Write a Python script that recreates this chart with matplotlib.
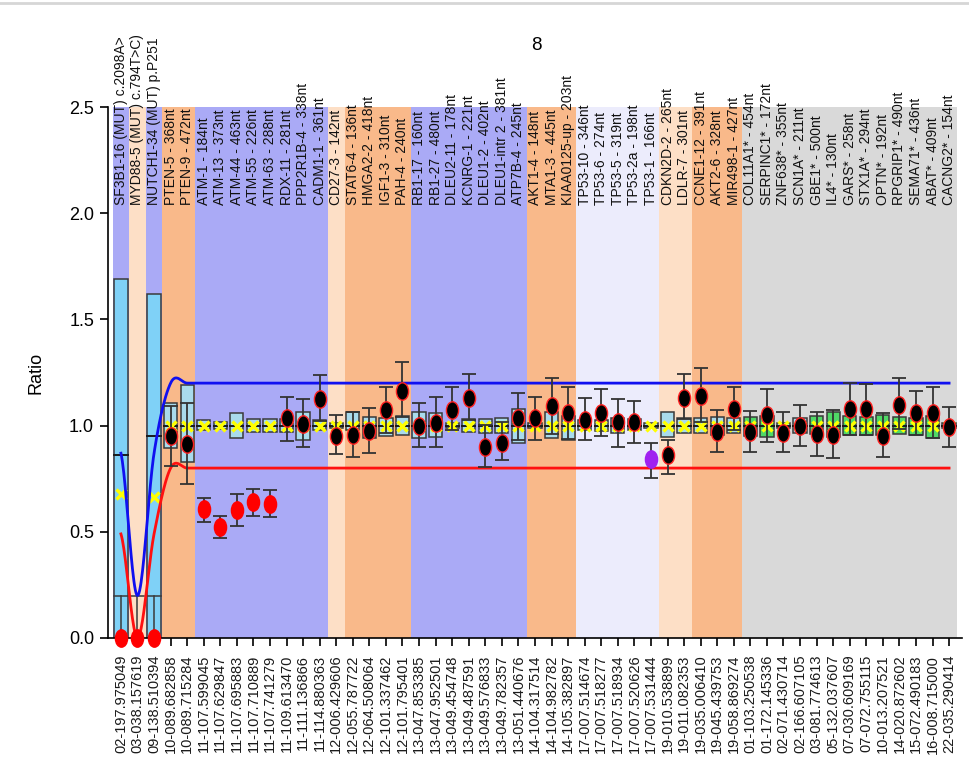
import numpy as np
import matplotlib
matplotlib.use("Agg")
import matplotlib.pyplot as plt
from matplotlib.path import Path
from matplotlib.lines import Line2D
from matplotlib.patches import Rectangle

plt.rcParams['font.family'] = ['Liberation Sans', 'DejaVu Sans']

# --- data -------------------------------------------------------------
probe_labels = [
    "SF3B1-16 (MUT) c.2098A>", "MYD88-5 (MUT) c.794T>C)", "NUTCH1-34 (MUT) p.P251",
    "PTEN-5 - 368nt", "PTEN-9 - 472nt", "ATM-1 - 184nt", "ATM-13 - 373nt",
    "ATM-44 - 463nt", "ATM-55 - 226nt", "ATM-63 - 288nt", "RDX-11 - 281nt",
    "PPP2R1B-4 - 338nt", "CADM1-1 - 361nt", "CD27-3 - 142nt", "STAT6-4 - 136nt",
    "HMGA2-2 - 418nt", "IGF1-3 - 310nt", "PAH-4 - 240nt", "RB1-17 - 160nt",
    "RB1-27 - 480nt", "DLEU2-11 - 178nt", "KCNRG-1 - 221nt", "DLEU1-2 - 402nt",
    "DLEU1-intr 2 - 381nt", "ATP7B-4 - 245nt", "AKT1-4 - 148nt", "MTA1-3 - 445nt",
    "KIAA0125-up - 203nt", "TP53-10 - 346nt", "TP53-6 - 274nt", "TP53-5 - 319nt",
    "TP53-2a - 198nt", "TP53-1 - 166nt", "CDKN2D-2 - 265nt", "LDLR-7 - 301nt",
    "CCNE1-12 - 391nt", "AKT2-6 - 328nt", "MIR498-1 - 427nt", "COL11A1* - 454nt",
    "SERPINC1* - 172nt", "ZNF638* - 355nt", "SCN1A* - 211nt", "GBE1* - 500nt",
    "IL4* - 130nt", "GARS* - 258nt", "STX1A* - 294nt", "OPTN* - 192nt",
    "RPGRIP1* - 490nt", "SEMA71* - 436nt", "ABAT* - 409nt", "CACNG2* - 154nt",
]

positions = [
    "02-197.975049", "03-038.157619", "09-138.510394", "10-089.682858", "10-089.715284",
    "11-107.599045", "11-107.629847", "11-107.695883", "11-107.710889", "11-107.741279",
    "11-109.613470", "11-111.136866", "11-114.880363", "12-006.429606", "12-055.787722",
    "12-064.508064", "12-101.337462", "12-101.795401", "13-047.853385", "13-047.952501",
    "13-049.454748", "13-049.487591", "13-049.576833", "13-049.782357", "13-051.440676",
    "14-104.317514", "14-104.982782", "14-105.382897", "17-007.514674", "17-007.518277",
    "17-007.518934", "17-007.520626", "17-007.531444", "19-010.538899", "19-011.082353",
    "19-035.006410", "19-045.439753", "19-058.869274", "01-103.250538", "01-172.145336",
    "02-071.430714", "02-166.607105", "03-081.774613", "05-132.037607", "07-030.609169",
    "07-072.755115", "10-013.207521", "14-020.872602", "15-072.490183", "16-008.715000",
    "22-035.290414",
]

# background group per probe
band_group = (["blue", "peach", "blue"] + ["orange"] * 2 + ["blue"] * 8 + ["peach"]
              + ["orange"] * 4 + ["blue"] * 7 + ["orange"] * 3 + ["lilac"] * 5
              + ["peach"] * 2 + ["orange"] * 3 + ["gray"] * 13)

# sample ratio with error range
ratio = [0.0, 0.0, 0.0, 0.952, 0.913, 0.606, 0.524, 0.603, 0.639, 0.629,
         1.037, 1.007, 1.127, 0.951, 0.956, 0.976, 1.073, 1.164, 0.998, 1.014,
         1.073, 1.128, 0.898, 0.920, 1.034, 1.034, 1.092, 1.061, 1.026, 1.061,
         1.019, 1.019, 0.841, 0.862, 1.128, 1.139, 0.971, 1.077, 0.971, 1.050,
         0.964, 0.998, 0.960, 0.956, 1.077, 1.077, 0.951, 1.097, 1.061, 1.061,
         0.995]
ratio_lo = [np.nan, np.nan, np.nan, 0.810, 0.725, 0.545, 0.469, 0.529, 0.576, 0.570,
            0.929, 0.898, 1.023, 0.865, 0.851, 0.870, 0.967, 1.039, 0.898, 0.898,
            0.979, 1.026, 0.807, 0.838, 0.930, 0.932, 0.960, 0.935, 0.932, 0.951,
            0.901, 0.917, 0.752, 0.772, 1.030, 1.019, 0.877, 0.979, 0.877, 0.924,
            0.877, 0.904, 0.857, 0.846, 0.956, 0.956, 0.851, 0.983, 0.956, 0.940,
            0.898]
ratio_hi = [np.nan, np.nan, np.nan, 1.092, 1.108, 0.660, 0.576, 0.676, 0.701, 0.695,
            1.136, 1.124, 1.237, 1.050, 1.066, 1.081, 1.183, 1.298, 1.108, 1.136,
            1.183, 1.243, 1.003, 1.019, 1.152, 1.136, 1.223, 1.183, 1.128, 1.171,
            1.124, 1.117, 0.920, 0.932, 1.243, 1.270, 1.073, 1.183, 1.070, 1.171,
            1.066, 1.097, 1.066, 1.073, 1.199, 1.196, 1.058, 1.223, 1.164, 1.183,
            1.089]
call = (["del"] * 3 + ["ok"] * 2 + ["del"] * 5 + ["ok"] * 22 + ["low"] + ["ok"] * 18)

# reference distribution boxes
ref_lo = [0.0, np.nan, 0.0, 0.893, 0.827, 0.978, 0.984, 0.940, 0.968, 0.968,
          0.968, 0.931, 0.978, 0.990, 0.979, 0.940, 0.951, 0.956, 0.940, 0.948,
          0.990, 0.972, 0.966, 0.966, 0.917, 0.990, 0.940, 0.934, 0.979, 0.975,
          0.966, 0.979, 0.990, 0.945, 0.966, 0.966, 0.956, 0.966, 0.951, 0.945,
          0.990, 0.966, 0.960, 0.948, 0.956, 0.956, 0.956, 0.960, 0.956, 0.940,
          0.990]
ref_hi = [1.69, np.nan, 1.62, 1.108, 1.191, 1.025, 1.015, 1.060, 1.030, 1.030,
          1.030, 1.066, 1.025, 1.010, 1.066, 1.042, 1.034, 1.045, 1.066, 1.058,
          1.010, 1.030, 1.030, 1.034, 1.077, 1.010, 1.066, 1.045, 1.026, 1.026,
          1.034, 1.030, 1.010, 1.066, 1.034, 1.034, 1.039, 1.034, 1.039, 1.045,
          1.010, 1.034, 1.045, 1.066, 1.045, 1.039, 1.050, 1.039, 1.034, 1.045,
          1.010]
ref_median = [0.86, np.nan, 0.95] + [1.0] * 48
ref_mean = [0.68, np.nan, 0.665] + [1.0] * 48
ref_floor = [0.2, 0.2, 0.2] + [np.nan] * 48
box_kind = (["mut", "none", "mut"] + ["ref"] * 35 + ["alt", "alt", "ref", "ref"]
            + ["alt"] * 8 + ["ref"])

# thresholds
upper_thr = [0.87, 0.20, 0.87, 1.20, 1.20, 1.20, 1.20, 1.20, 1.20, 1.20,
             1.20, 1.20, 1.20, 1.20, 1.20, 1.20, 1.20, 1.20, 1.20, 1.20,
             1.20, 1.20, 1.20, 1.20, 1.20, 1.20, 1.20, 1.20, 1.20, 1.20,
             1.20, 1.20, 1.20, 1.20, 1.20, 1.20, 1.20, 1.20, 1.20, 1.20,
             1.20, 1.20, 1.20, 1.20, 1.20, 1.20, 1.20, 1.20, 1.20, 1.20,
             1.20]
lower_thr = [0.49, 0.00, 0.49, 0.80, 0.80, 0.80, 0.80, 0.80, 0.80, 0.80,
             0.80, 0.80, 0.80, 0.80, 0.80, 0.80, 0.80, 0.80, 0.80, 0.80,
             0.80, 0.80, 0.80, 0.80, 0.80, 0.80, 0.80, 0.80, 0.80, 0.80,
             0.80, 0.80, 0.80, 0.80, 0.80, 0.80, 0.80, 0.80, 0.80, 0.80,
             0.80, 0.80, 0.80, 0.80, 0.80, 0.80, 0.80, 0.80, 0.80, 0.80,
             0.80]

band_colors = {"blue": "#aaaaf6", "peach": "#fddfc6", "orange": "#f9b98a",
               "lilac": "#ececfc", "gray": "#d9d9d9"}
box_colors = {"mut": "#7fd1f7", "ref": "#a9dbec", "alt": "#4fd866"}
dot_colors = {"del": ("#ff0000", "#ff0000"), "ok": ("#000000", "#ff2020"),
              "low": ("#a020f0", "#a020f0")}


def smooth(ys, steps=24):
    # excel-like smoothed line (catmull-rom through the points)
    ys = np.asarray(ys, dtype=float)
    n = len(ys)
    xs_out, ys_out = [], []
    t = np.linspace(0, 1, steps)
    h00 = 2 * t**3 - 3 * t**2 + 1
    h10 = t**3 - 2 * t**2 + t
    h01 = -2 * t**3 + 3 * t**2
    h11 = t**3 - t**2
    for k in range(n - 1):
        p0 = ys[max(k - 1, 0)]
        p1, p2 = ys[k], ys[k + 1]
        p3 = ys[min(k + 2, n - 1)]
        m1 = (p2 - p0) / 2
        m2 = (p3 - p1) / 2
        xs_out.append(k + t)
        ys_out.append(h00 * p1 + h10 * m1 + h01 * p2 + h11 * m2)
    return np.concatenate(xs_out), np.concatenate(ys_out)


circ = Path.unit_circle()
ellipse = Path(circ.vertices * np.array([0.7, 1.0]), circ.codes)

fig = plt.figure(figsize=(9.69, 7.69), dpi=100)
ax = fig.add_axes([108 / 969, 131 / 769, 854 / 969, 531 / 769])
x = np.arange(len(positions))

for i, g in enumerate(band_group):
    ax.axvspan(i - 0.5, i + 0.5, color=band_colors[g], lw=0, zorder=0)

bw = 0.8
for i in x:
    kind = box_kind[i]
    if kind != "none":
        ax.add_patch(Rectangle((i - bw / 2, ref_lo[i]), bw, ref_hi[i] - ref_lo[i],
                               facecolor=box_colors[kind], edgecolor="#3a3a3a",
                               lw=1.1, zorder=2))
        ax.plot([i - bw / 2, i + bw / 2], [ref_median[i]] * 2, color="#1a1a1a",
                lw=1.4, zorder=2.1)
    if not np.isnan(ref_floor[i]):
        ax.plot([i - bw / 2, i + bw / 2], [ref_floor[i]] * 2, color="#3a3a3a",
                lw=1.1, zorder=2.1)
        ax.plot([i, i], [0, ref_floor[i]], color="#3a3a3a", lw=1.1, zorder=2.1)

ax.plot(x, ref_mean, ls="none", marker="x", ms=6.5, mew=2.4, color="#ffff00", zorder=2.5)

bx, by = smooth(upper_thr)
ax.plot(bx, by, color="#1010f0", lw=2, zorder=3)
rx, ry = smooth(lower_thr)
ax.plot(rx, ry, color="#ff1010", lw=2, zorder=3)

r = np.array(ratio)
ax.errorbar(x, r, yerr=[r - np.array(ratio_lo), np.array(ratio_hi) - r], fmt="none",
            ecolor="#333333", elinewidth=1.3, capsize=5, capthick=1.3, zorder=4)
for i in x:
    fc, ec = dot_colors[call[i]]
    ax.plot(i, r[i], marker=ellipse, ms=12.5, mfc=fc, mec=ec, mew=1.0, ls="none",
            zorder=5, clip_on=False)

for i, lab in enumerate(probe_labels):
    ax.text(i, 2.04, lab, rotation=90, ha="center", va="bottom", fontsize=10,
            color="#111111", clip_on=False, zorder=6)

ax.set_xlim(-0.78, 50.78)
ax.set_ylim(0, 2.5)
ax.set_xticks(x)
ax.set_xticklabels(positions, rotation=90, fontsize=10.5, color="#1a1a1a")
ax.set_yticks([0, 0.5, 1.0, 1.5, 2.0, 2.5])
ax.set_yticklabels(["0.0", "0.5", "1.0", "1.5", "2.0", "2.5"], fontsize=13)
ax.tick_params(axis="x", length=6, width=1.2, pad=6)
ax.tick_params(axis="y", length=6, width=1.2, pad=4)
ax.set_ylabel("Ratio", fontsize=13)
ax.yaxis.set_label_coords(-0.074, 0.5)
for s in ("top", "right"):
    ax.spines[s].set_visible(False)
for s in ("left", "bottom"):
    ax.spines[s].set_linewidth(1.2)

fig.text(536 / 969, 1 - 45 / 769, "8", ha="center", va="center", fontsize=13.5)
fig.add_artist(Line2D([0, 1], [1 - 3 / 769, 1 - 3 / 769], color="#d6d6d6", lw=2,
                      transform=fig.transFigure))

fig.savefig("out.png", dpi=100)
